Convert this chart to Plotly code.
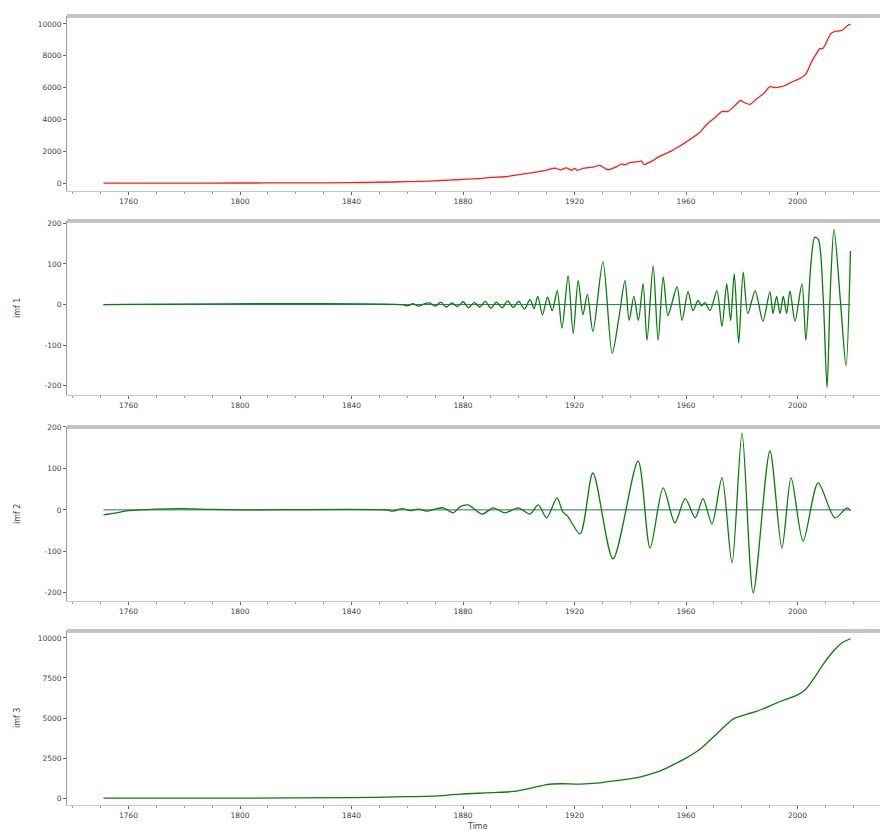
import plotly.graph_objects as go

# ---------------- data ----------------
signal_years = [1751, 1780, 1800, 1820, 1840, 1850, 1860, 1870, 1875, 1880, 1885, 1890, 1895,
                1900, 1905, 1910, 1913, 1915, 1917, 1919, 1920, 1921, 1923, 1925, 1927, 1929,
                1932, 1935, 1937, 1938, 1940, 1942, 1944, 1945, 1946, 1948, 1950, 1955, 1957,
                1960, 1965, 1967.5, 1970, 1973, 1975, 1978, 1979.5, 1981, 1983, 1985, 1988,
                1990, 1992, 1995, 1998, 2000, 2002, 2003, 2005, 2007, 2008, 2009, 2010, 2011,
                2012, 2013, 2014, 2015, 2016, 2017, 2018, 2019]
signal_vals = [3, 5, 8, 14, 33, 54, 91, 147, 190, 236, 280, 356, 400,
               534, 663, 819, 943, 836, 964, 807, 932, 803, 930, 975, 1020, 1116,
               840, 1027, 1209, 1142, 1299, 1330, 1380, 1163, 1240, 1400, 1630, 2040, 2250,
               2577, 3200, 3700, 4053, 4500, 4500, 4950, 5190, 5050, 4950, 5250, 5650,
               6050, 6000, 6100, 6350, 6500, 6700, 6850, 7600, 8200, 8450, 8450, 8700, 9100,
               9400, 9500, 9550, 9560, 9600, 9750, 9900, 9990]

imf1_years = [1751, 1858, 1860, 1862, 1864, 1866, 1868, 1870, 1872, 1874, 1876, 1878, 1880,
              1882, 1884, 1886, 1888, 1890, 1892, 1894, 1896, 1898, 1900, 1902, 1904,
              1905.5, 1906.8, 1908.5, 1910.3, 1912, 1913.8, 1915.5, 1917.7, 1919.5, 1921.3,
              1923, 1924.6, 1926.6, 1930.2, 1933.5, 1936.0, 1938.1, 1939.6, 1941.3, 1942.9,
              1944.6, 1946.0, 1948.2, 1950.0, 1951.8, 1953.5, 1955.2, 1956.8, 1958.6, 1960.7,
              1962.5, 1964.3, 1965.6, 1966.8, 1968.6, 1971.1, 1972.9, 1974.6, 1976.0, 1977.3,
              1978.9, 1980.5, 1982.2, 1984.8, 1987.6, 1990.1, 1991.2, 1992.5, 1993.7, 1994.9,
              1996.1, 1997.3, 1999.1, 2001.6, 2003.0, 2004.8, 2006.2, 2007.5, 2009.2, 2010.6,
              2011.8, 2013.1, 2015.5, 2017.4, 2019]
imf1_vals = [0, 0, -3, 2, -4, 2, 4, -4, 6, -6, 4, -5, 7,
             -8, 5, -6, 8, -9, 6, -8, 9, -7, 8, -11, 12,
             -10, 20, -25, 18, -15, 34, -58, 71, -71, 59,
             -25, 25, -66, 105, -120, -29, 59, -39, 20, -39,
             51, -88, 95, -88, 68, -27, 10, 44, -39, 32,
             -15, 10, -3, 5, -15, 34, -54, 51, -39, 76,
             -95, 80, -22, 34, -41, 32, -22, 20, -22, 20,
             -22, 34, -41, 51, -88, 100, 166, 160, 20, -205,
             40, 185, 0, -151, 132]

imf2_years = [1751, 1755, 1760, 1770, 1780, 1790, 1800, 1852, 1855, 1858, 1861, 1864, 1867,
              1870, 1872.9, 1876.5, 1879, 1881.8, 1886.9, 1890.8, 1895, 1899.8, 1904, 1907,
              1910, 1913.7, 1915.8, 1917.5, 1922, 1926.6, 1933.8, 1942.8, 1947.1, 1951.8,
              1956, 1959.7, 1963.3, 1966.1, 1969.3, 1972.9, 1976.5, 1980.1, 1984.1, 1990.1,
              1994.4, 1997.7, 2002, 2007.4, 2013.4, 2017.8, 2019]
imf2_vals = [-12, -8, -2, 2, 3, 1, 0, 0, -3, 3, -2, 2, -3,
             2, 5, -7, 8, 12, -10, 5, -7, 5, -10, 12,
             -19, 29, -5, -15, -58, 89, -118, 118, -92, 53,
             -31, 27, -19, 27, -34, 77, -128, 185, -200, 142,
             -92, 77, -75, 65, -19, 5, -2]

res_years = [1751, 1800, 1840, 1860, 1869, 1879, 1890, 1898, 1905, 1910, 1915, 1922, 1929,
             1935, 1943, 1950, 1955, 1960, 1965, 1970, 1974, 1977, 1982, 1985, 1990, 1994,
             2000, 2003, 2006, 2009, 2013, 2016, 2019]
res_vals = [0, 5, 30, 90, 124, 250, 340, 420, 650, 850, 900, 880, 960,
            1100, 1300, 1650, 2050, 2500, 3050, 3850, 4500, 4950, 5250, 5400, 5750, 6050,
            6450, 6800, 7500, 8300, 9200, 9700, 9950]

x_ticks = [1760, 1800, 1840, 1880, 1920, 1960, 2000]
y_labels = ["", "imf 1", "imf 2", "imf 3"]
y_ticks = [[0, 2000, 4000, 6000, 8000, 10000],
           [-200, -100, 0, 100, 200],
           [-200, -100, 0, 100, 200],
           [0, 2500, 5000, 7500, 10000]]
y_ranges = [[-500, 10500], [-223, 206], [-220, 200], [-435, 10435]]

# ---------------- figure ----------------
W, H = 880, 831
ML = 67
panels_px = [(12, 188), (218, 393), (425, 600), (630, 805)]
domains = [[1 - b / H, 1 - t / H] for t, b in panels_px]

fig = go.Figure()
RED = "#ff1a1a"
GREEN = "#0a7d0a"
ZERO = "#2f6b70"

series = [(signal_years, signal_vals, RED),
          (imf1_years, imf1_vals, GREEN),
          (imf2_years, imf2_vals, GREEN),
          (res_years, res_vals, GREEN)]

for i, (xs, ys, col) in enumerate(series):
    ax = "" if i == 0 else str(i + 1)
    if i in (1, 2):
        fig.add_trace(go.Scatter(x=[xs[0], xs[-1]], y=[0, 0], mode="lines",
                                 line=dict(color=ZERO, width=1),
                                 xaxis="x" + ax, yaxis="y" + ax, showlegend=False,
                                 hoverinfo="skip"))
    fig.add_trace(go.Scatter(x=xs, y=ys, mode="lines",
                             line=dict(color=col, width=1.3, shape="spline", smoothing=0.8),
                             xaxis="x" + ax, yaxis="y" + ax, showlegend=False))

tickfont = dict(family="DejaVu Sans", size=7.5, color="#444444")
layout = dict(width=W, height=H, margin=dict(l=ML, r=0, t=0, b=0),
              paper_bgcolor="white", plot_bgcolor="white", showlegend=False)

for i in range(4):
    ax = "" if i == 0 else str(i + 1)
    layout["xaxis" + ax] = dict(
        domain=[0, 1], anchor="y" + ax, range=[1737.9, 2029.6],
        tickmode="array", tickvals=x_ticks, ticktext=[str(v) for v in x_ticks],
        ticks="outside", ticklen=3, tickcolor="#666666", tickfont=tickfont,
        showline=True, linecolor="#c8c8c8", linewidth=1, showgrid=False, zeroline=False,
        minor=dict(ticks="outside", ticklen=2, tickcolor="#9a9a9a", dtick=10, tick0=1760),
    )
    layout["yaxis" + ax] = dict(
        domain=domains[i], anchor="x" + ax, range=y_ranges[i],
        tickmode="array", tickvals=y_ticks[i], ticktext=[str(v) for v in y_ticks[i]],
        ticks="outside", ticklen=3, tickcolor="#666666", tickfont=tickfont,
        showline=True, linecolor="#9a9a9a", linewidth=1, showgrid=False, zeroline=False,
    )

fig.update_layout(**layout)

for i in range(4):
    ax = "" if i == 0 else str(i + 1)
    fig.add_shape(type="line", xref="x" + ax + " domain", yref="y" + ax + " domain",
                  x0=0, x1=1, y0=1, y1=1, line=dict(color="#c4c4c4", width=4))
    if y_labels[i]:
        t, b = panels_px[i]
        fig.add_annotation(text=y_labels[i], textangle=-90, xref="paper", yref="paper",
                           x=(17 - ML) / (W - ML), y=1 - ((t + b) / 2) / H,
                           xanchor="center", yanchor="middle", showarrow=False,
                           font=dict(family="DejaVu Sans", size=8, color="#444444"))

fig.add_annotation(text="Time", xref="paper", yref="paper",
                   x=(477 - ML) / (W - ML), y=1 - 826 / H, xanchor="center", yanchor="middle",
                   showarrow=False, font=dict(family="DejaVu Sans", size=8, color="#444444"))

fig.write_html("out.html")
